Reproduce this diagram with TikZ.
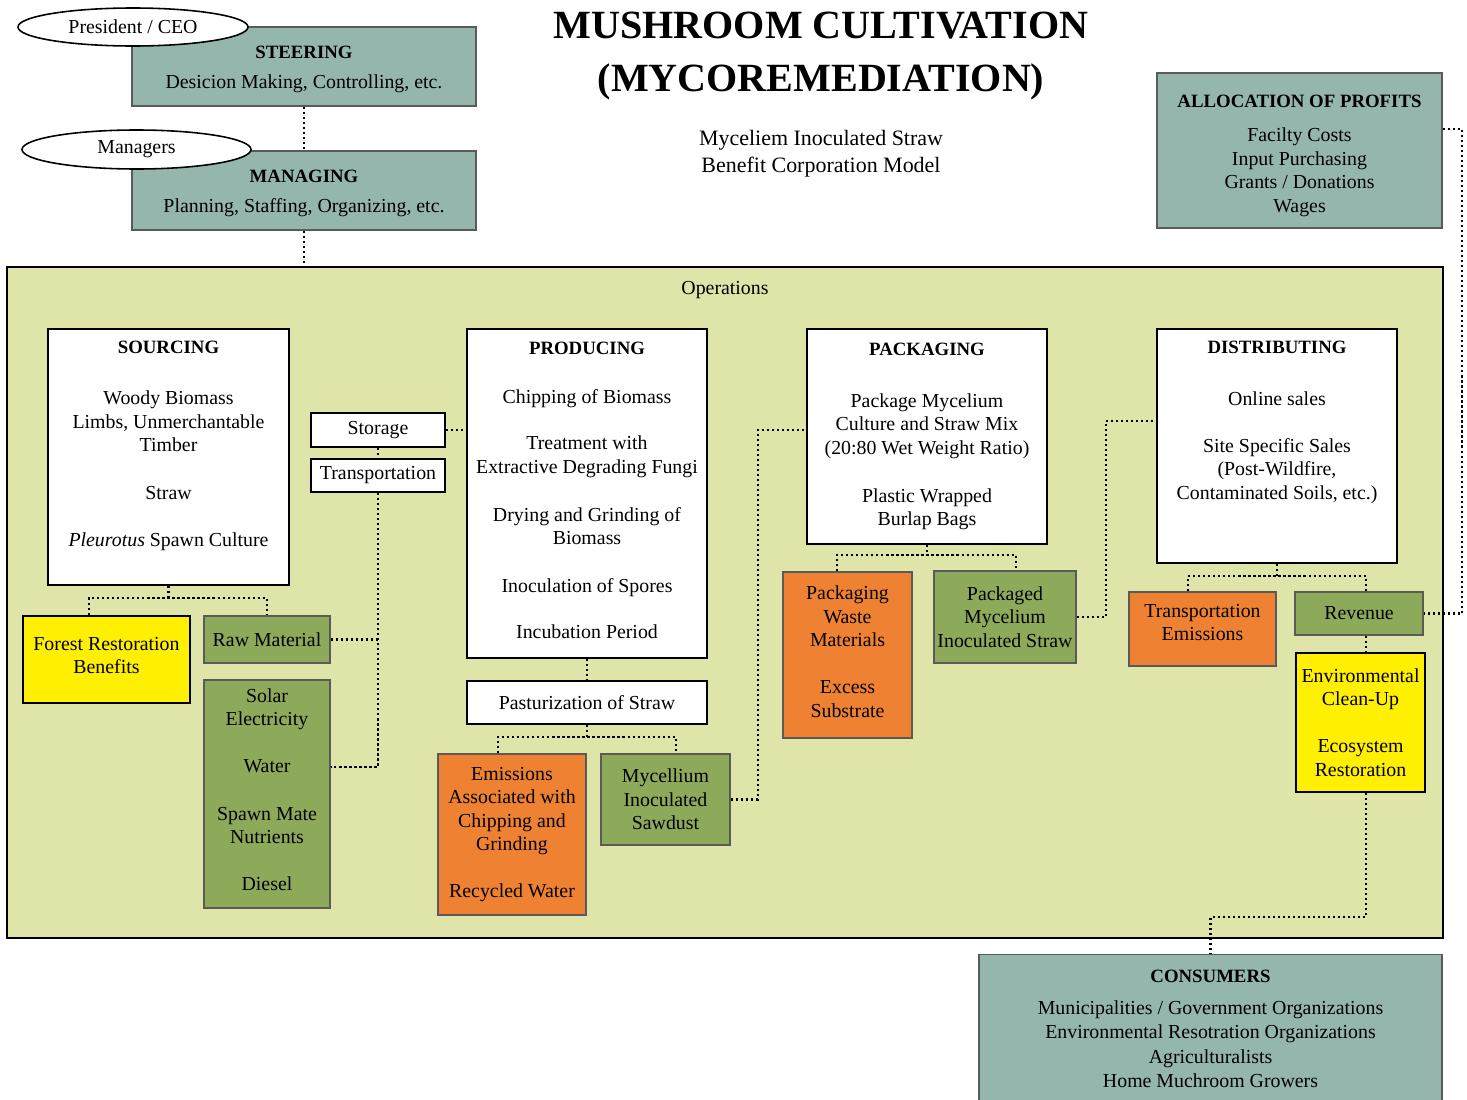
\documentclass[tikz,border=0pt]{standalone}
\usepackage{fontspec}
\setmainfont{Liberation Serif}
\usetikzlibrary{shapes.geometric}

\definecolor{boardgray}{RGB}{149,182,172}
\definecolor{leafgreen}{RGB}{140,170,90}
\definecolor{wasteorange}{RGB}{239,130,50}
\definecolor{benefityellow}{RGB}{255,239,0}
\definecolor{opsbg}{RGB}{223,229,168}
\definecolor{rimgray}{RGB}{90,90,90}

\newcommand{\hd}[1]{{\bfseries\fontsize{10.7}{13.4}\selectfont #1}}

\tikzset{
  every node/.style={font=\fontsize{11.3}{13.4}\selectfont, align=center},
  boxsize/.style 2 args={minimum width=#1*0.02cm, minimum height=#2*0.02cm},
  stagebox/.style={draw=black, line width=1.5pt, fill=white, inner sep=0pt},
  mgmtbox/.style={draw=rimgray, line width=1.1pt, fill=boardgray, inner sep=0pt},
  inputbox/.style={draw=rimgray, line width=1.1pt, fill=leafgreen, inner sep=0pt},
  wastebox/.style={draw=rimgray, line width=1.1pt, fill=wasteorange, inner sep=0pt},
  gainbox/.style={draw=black, line width=1.1pt, fill=benefityellow, inner sep=0pt},
  rolebubble/.style={ellipse, draw=black, line width=0.9pt, fill=white, inner sep=0pt},
  link/.style={line width=1.2pt, dash pattern=on 1.2pt off 1.65pt},
}

\begin{document}
\begin{tikzpicture}[x=0.02cm, y=-0.02cm]
  \useasboundingbox (0,0) rectangle (1467,1099);

  % management
  \node[mgmtbox, boxsize={344}{79}] (steer) at (304,66.5)
    {\mbox{}\\[-2.9pt]\hd{STEERING}\\[3.7pt] Desicion Making, Controlling, etc.};
  \node[rolebubble, boxsize={230}{38}] (ceo) at (133,27) {President / CEO};
  \node[mgmtbox, boxsize={344}{79}] (manage) at (304,190.5)
    {\mbox{}\\[-2.9pt]\hd{MANAGING}\\[3.7pt] Planning, Staffing, Organizing, etc.};
  \node[rolebubble, boxsize={229}{39}] (mgr) at (136.5,149.5) {Managers};

  \node[font=\bfseries\fontsize{22.8}{29.6}\selectfont] (title) at (821,56)
    {MUSHROOM CULTIVATION\\(MYCOREMEDIATION)};
  \node[font=\fontsize{12.5}{15.4}\selectfont] (subtitle) at (821,153.5)
    {Myceliem Inoculated Straw\\Benefit Corporation Model};

  \node[mgmtbox, boxsize={285}{155}] (alloc) at (1299.5,150.5)
    {\mbox{}\\[0pt]\hd{ALLOCATION OF PROFITS}\\[6pt] Facilty Costs\\Input Purchasing\\Grants / Donations\\Wages};

  % operations
  \node[draw=black, line width=1.4pt, fill=opsbg, boxsize={1436}{671}] (ops) at (725,602.5) {};
  \node (opslbl) at (725,290) {Operations};

  \node[stagebox, boxsize={241}{256}] (src) at (168.5,457)
    {\hd{SOURCING}\\[16pt] Woody Biomass\\Limbs, Unmerchantable\\Timber\\[13.4pt]
     Straw\\[13.4pt] \textit{Pleurotus} Spawn Culture\\[2pt]\mbox{}};
  \node[gainbox, boxsize={167}{87}] (forest) at (106.5,659.5)
    {Forest Restoration\\Benefits\\[-8.7pt]\mbox{}};
  \node[inputbox, boxsize={126}{47}] (raw) at (267,639.5) {Raw Material};
  \node[inputbox, boxsize={126}{228}] (inputs) at (267,794)
    {Solar\\Electricity\\[13.4pt] Water\\[13.4pt] Spawn Mate\\Nutrients\\[13.4pt] Diesel\\[-8.4pt]\mbox{}};
  \node[stagebox, line width=1.2pt, boxsize={134}{34}] (store) at (378,430) {Storage};
  \node[stagebox, line width=1.2pt, boxsize={134}{33}] (trans) at (378,475.5) {Transportation};

  \node[stagebox, boxsize={240}{329}] (prod) at (587,493.5)
    {\hd{PRODUCING}\\[14.5pt] Chipping of Biomass\\[12.8pt] Treatment with\\Extractive Degrading Fungi\\[14pt]
     Drying and Grinding of\\Biomass\\[14pt] Inoculation of Spores\\[12.8pt] Incubation Period\\[-10pt]\mbox{}};
  \node[stagebox, boxsize={240}{43}] (past) at (587,702.5) {Pasturization of Straw};
  \node[wastebox, boxsize={148}{161}] (emis) at (512,834.5)
    {Emissions\\Associated with\\Chipping and\\Grinding\\[13.4pt] Recycled Water};
  \node[inputbox, boxsize={129}{91}] (myc) at (665.5,799.5)
    {Mycellium\\Inoculated\\Sawdust};

  \node[stagebox, boxsize={240}{215}] (pack) at (927,436.5)
    {\hd{PACKAGING}\\[16pt] Package Mycelium\\Culture and Straw Mix\\(20:80 Wet Weight Ratio)\\[14pt]
     Plastic Wrapped\\Burlap Bags};
  \node[wastebox, boxsize={129}{166}] (waste) at (847.5,655)
    {Packaging\\Waste\\Materials\\[13.4pt] Excess\\Substrate\\[-9.4pt]\mbox{}};
  \node[inputbox, boxsize={142}{92}] (pkd) at (1005,617)
    {Packaged\\Mycelium\\Inoculated Straw};

  \node[stagebox, boxsize={240}{234}] (dist) at (1277,446)
    {\hd{DISTRIBUTING}\\[16pt] Online sales\\[13.4pt] Site Specific Sales\\(Post-Wildfire,\\Contaminated Soils, etc.)\\[16pt]\mbox{}};
  \node[wastebox, boxsize={147}{74}] (temis) at (1202.5,629)
    {Transportation\\Emissions\\[-6pt]\mbox{}};
  \node[inputbox, boxsize={128}{43}] (rev) at (1359,613.5) {Revenue};
  \node[gainbox, boxsize={129}{139}] (env) at (1360.5,722.5)
    {Environmental\\Clean-Up\\[13.4pt] Ecosystem\\Restoration};

  \node[mgmtbox, boxsize={463}{149}, font=\fontsize{11.3}{13.9}\selectfont] (cons) at (1210.5,1029)
    {\hd{CONSUMERS}\\[4pt] Municipalities / Government Organizations\\Environmental Resotration Organizations\\
     Agriculturalists\\Home Muchroom Growers};

  % dotted links
  \draw[link] (steer.south) -- (manage.north);
  \draw[link] (manage.south) -- (manage.south |- ops.north);
  \draw[link] ([yshift=0.43cm]alloc.east) -- ++(19,0) |- (rev.east);

  \draw[link] (src.south) -- ++(0,12) coordinate (srcfork);
  \draw[link] ([xshift=-0.35cm]forest.north) |- (srcfork) -| (raw.north);
  \draw[link] (store.east) -- (store.east -| prod.west);
  \draw[link] (store.south) -- (trans.north);
  \draw[link] (trans.south) |- ([yshift=0.54cm]inputs.east);
  \draw[link] (raw.east) -- (raw.east -| trans.south);

  \draw[link] (prod.south) -- (past.north);
  \draw[link] (past.south) -- ++(0,12) coordinate (pastfork);
  \draw[link] ([xshift=-0.28cm]emis.north) |- (pastfork) -| ([xshift=0.21cm]myc.north);
  \draw[link] (myc.east) -- ++(27,0) |- ([yshift=0.13cm]pack.west);

  \draw[link] (pack.south) -- ++(0,10) coordinate (packfork);
  \draw[link] ([xshift=-0.21cm]waste.north) |- (packfork) -| ([xshift=0.22cm]pkd.north);
  \draw[link] (pkd.east) -- ++(29,0) |- ([yshift=0.5cm]dist.west);

  \draw[link] (dist.south) -- ++(0,12) coordinate (distfork);
  \draw[link] ([xshift=-0.29cm]temis.north) |- (distfork) -| ([xshift=0.14cm]rev.north);
  \coordinate (revtap) at ([xshift=0.14cm]rev.south);
  \draw[link] (revtap) -- (revtap |- env.north);
  \draw[link] (revtap |- env.south) -- ++(0,124) -| (cons.north);
\end{tikzpicture}
\end{document}
